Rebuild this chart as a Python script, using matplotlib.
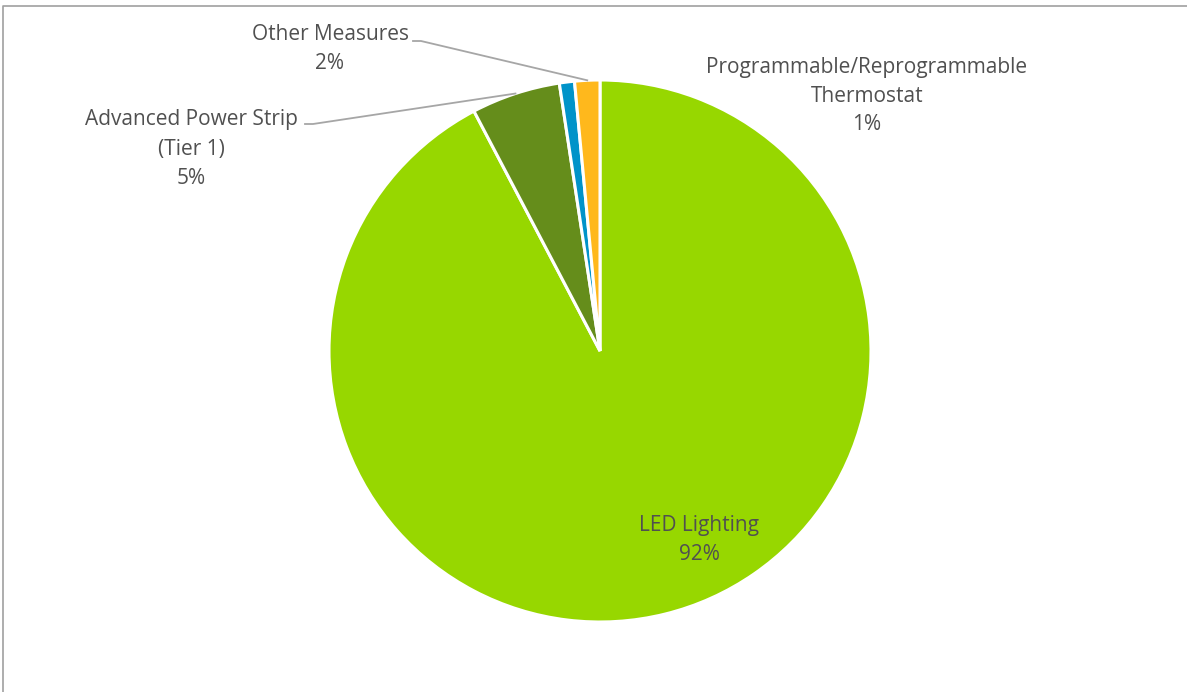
import numpy as np
import matplotlib.pyplot as plt

# Datos del gráfico
measures = ['LED Lighting', 'Advanced Power Strip\n(Tier 1)',
            'Programmable/Reprogrammable\nThermostat', 'Other Measures']
shares = [92.3, 5.3, 0.9, 1.5]
pct_labels = ['92%', '5%', '1%', '2%']
colors = ['#97D700', '#658D1B', '#0093C9', '#FFB81C']

plt.rcParams['font.family'] = ['Open Sans', 'DejaVu Sans']
text_color = '#505050'

W, H = 1187, 692
fig = plt.figure(figsize=(W / 100, H / 100), dpi=100)
ax = fig.add_axes([0, 0, 1, 1])

cx, cy, r = 600, H - 351, 271
wedges, _ = ax.pie(shares, colors=colors, startangle=90, counterclock=False,
                   center=(cx, cy), radius=r, frame=True,
                   wedgeprops=dict(edgecolor='white', linewidth=2.2))
ax.set_xlim(0, W)
ax.set_ylim(0, H)
ax.set_aspect('equal')
ax.axis('off')

# marco del gráfico (recortado)
ax.plot([3, 3, W], [0, H - 6, H - 6], color='#A0A0A0', lw=1.2, clip_on=False)

# posiciones de etiquetas (pixeles)
label_pos = [(699, 540), (191, 149), (867, 96), (330, 49)]
fs = 15
for i, (name, pct) in enumerate(zip(measures, pct_labels)):
    x, y = label_pos[i]
    ax.text(x, H - y, name + '\n' + pct, ha='center', va='center',
            fontsize=fs, color=text_color, linespacing=1.5)

# líneas guía hacia el punto medio de cada cuña
def mid_point(w):
    a = np.deg2rad((w.theta1 + w.theta2) / 2)
    return cx + r * np.cos(a), cy + r * np.sin(a)

for i, (sx, sy) in [(1, (305, 124)), (3, (413, 41))]:
    ex, ey = mid_point(wedges[i])
    ax.plot([sx, sx + 8, ex], [H - sy, H - sy, ey], color='#A6A6A6', lw=1.3)

fig.savefig('out.png', dpi=100)
